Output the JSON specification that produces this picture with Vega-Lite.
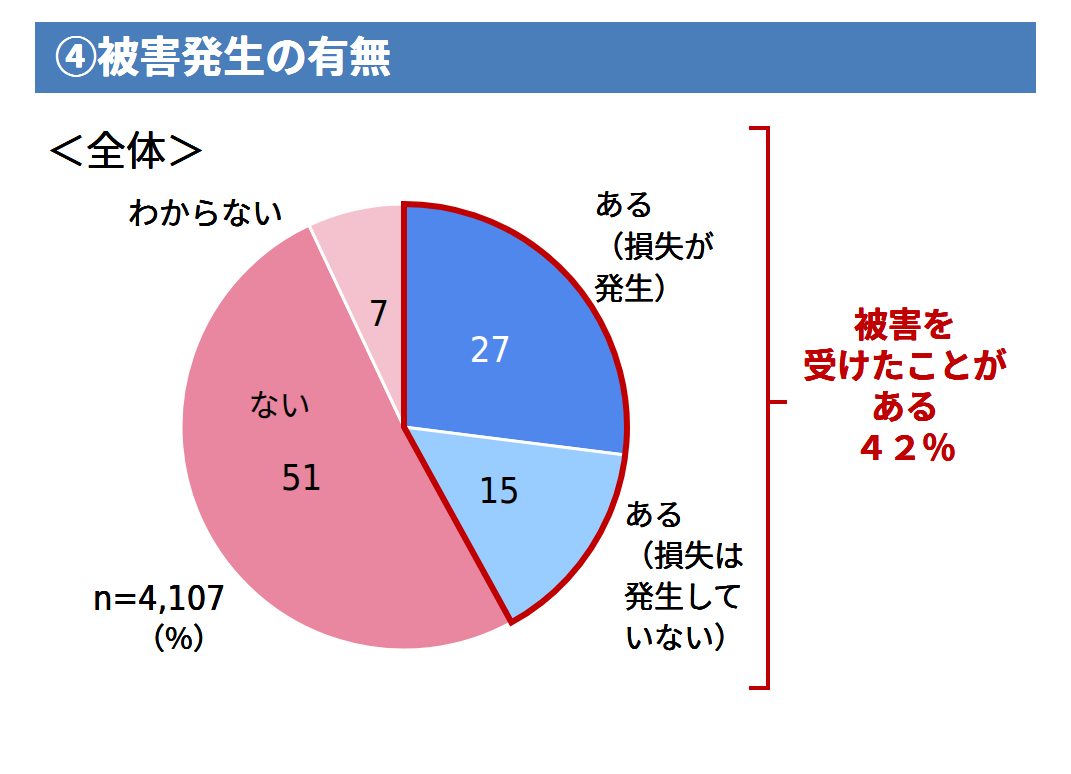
{
  "$schema": "https://vega.github.io/schema/vega-lite/v6.json",
  "width": 1071,
  "height": 774,
  "autosize": {"type": "fit", "contains": "padding"},
  "padding": 0,
  "background": "white",
  "config": {"view": {"stroke": null}, "font": "Noto Sans CJK JP"},
  "datasets": {
    "damage": [
      {"cat": "ある（損失が発生）", "value": 27, "grp": "被害あり", "ord": 1},
      {"cat": "ある（損失は発生していない）", "value": 15, "grp": "被害あり", "ord": 2},
      {"cat": "ない", "value": 51, "grp": "被害なし", "ord": 3},
      {"cat": "わからない", "value": 7, "grp": "被害なし", "ord": 4}
    ]
  },
  "data": {"name": "damage"},
  "layer": [
    {
      "mark": {"type": "rect", "x": 35, "x2": 1036, "y": 22, "y2": 93, "fill": "#4A7EBB"},
      "encoding": {}
    },
    {
      "mark": {"type": "text", "x": 55, "y": 59, "text": "④被害発生の有無", "align": "left", "baseline": "middle", "fontSize": 42, "fontWeight": "bold", "color": "white"},
      "encoding": {}
    },
    {
      "mark": {"type": "text", "x": 46, "y": 153, "text": "＜全体＞", "align": "left", "baseline": "middle", "fontSize": 40, "color": "black"},
      "encoding": {}
    },
    {
      "mark": {"type": "arc", "x": 404, "y": 427, "outerRadius": 223, "stroke": "white", "strokeWidth": 3},
      "encoding": {
        "theta": {"field": "value", "type": "quantitative", "stack": true},
        "order": {"field": "ord", "type": "quantitative"},
        "color": {
          "field": "cat",
          "type": "nominal",
          "scale": {
            "domain": ["ある（損失が発生）", "ある（損失は発生していない）", "ない", "わからない"],
            "range": ["#5087EC", "#99CCFF", "#E8879F", "#F4C2CE"]
          },
          "legend": null
        }
      }
    },
    {
      "transform": [
        {"filter": "datum.grp === '被害あり'"},
        {"aggregate": [{"op": "sum", "field": "value", "as": "total"}], "groupby": ["grp"]}
      ],
      "mark": {"type": "arc", "x": 404, "y": 427, "outerRadius": 223, "filled": false, "stroke": "#C00000", "strokeWidth": 6, "strokeJoin": "miter"},
      "encoding": {
        "theta": {"field": "total", "type": "quantitative", "stack": true}
      }
    },
    {
      "mark": {"type": "text", "x": 404, "y": 427, "radius": 115, "fontSize": 36, "font": "Liberation Sans Narrow, DejaVu Sans Condensed, Roboto, sans-serif", "baseline": "middle", "align": "center"},
      "encoding": {
        "theta": {"field": "value", "type": "quantitative", "stack": true},
        "order": {"field": "ord", "type": "quantitative"},
        "text": {"field": "value", "type": "quantitative"},
        "color": {"condition": {"test": "datum.ord === 1", "value": "white"}, "value": "black"}
      }
    },
    {
      "mark": {"type": "text", "x": 404, "y": 427, "radius": 115, "dx": -22, "dy": -72, "fontSize": 31, "baseline": "middle", "align": "center", "color": "black"},
      "encoding": {
        "theta": {"field": "value", "type": "quantitative", "stack": true},
        "order": {"field": "ord", "type": "quantitative"},
        "text": {"condition": {"test": "datum.cat === 'ない'", "value": "ない"}, "value": ""}
      }
    },
    {
      "mark": {"type": "text", "x": 594, "y": 206, "text": "ある\n（損失が\n発生）", "lineBreak": "\n", "lineHeight": 42, "align": "left", "baseline": "middle", "fontSize": 30, "color": "black"},
      "encoding": {}
    },
    {
      "mark": {"type": "text", "x": 624, "y": 516, "text": "ある\n（損失は\n発生して\nいない）", "lineBreak": "\n", "lineHeight": 41, "align": "left", "baseline": "middle", "fontSize": 30, "color": "black"},
      "encoding": {}
    },
    {
      "mark": {"type": "text", "x": 128, "y": 215, "text": "わからない", "align": "left", "baseline": "middle", "fontSize": 31, "color": "black"},
      "encoding": {}
    },
    {
      "mark": {"type": "text", "x": 93, "y": 600, "text": "n=4,107", "align": "left", "baseline": "middle", "fontSize": 34, "font": "Liberation Sans Narrow, DejaVu Sans Condensed, Roboto, sans-serif", "color": "black"},
      "encoding": {}
    },
    {
      "mark": {"type": "text", "x": 135, "y": 640, "text": "（%）", "align": "left", "baseline": "middle", "fontSize": 30, "color": "black"},
      "encoding": {}
    },
    {
      "mark": {"type": "rect", "x": 749, "x2": 770, "y": 126, "y2": 130, "fill": "#C00000"},
      "encoding": {}
    },
    {
      "mark": {"type": "rect", "x": 766, "x2": 770, "y": 126, "y2": 690, "fill": "#C00000"},
      "encoding": {}
    },
    {
      "mark": {"type": "rect", "x": 766, "x2": 787, "y": 400, "y2": 404, "fill": "#C00000"},
      "encoding": {}
    },
    {
      "mark": {"type": "rect", "x": 749, "x2": 770, "y": 686, "y2": 690, "fill": "#C00000"},
      "encoding": {}
    },
    {
      "mark": {"type": "text", "x": 905, "y": 327, "text": "被害を\n受けたことが\nある\n４２％", "lineBreak": "\n", "lineHeight": 41, "align": "center", "baseline": "middle", "fontSize": 34, "fontWeight": "bold", "color": "#C00000"},
      "encoding": {}
    }
  ]
}
